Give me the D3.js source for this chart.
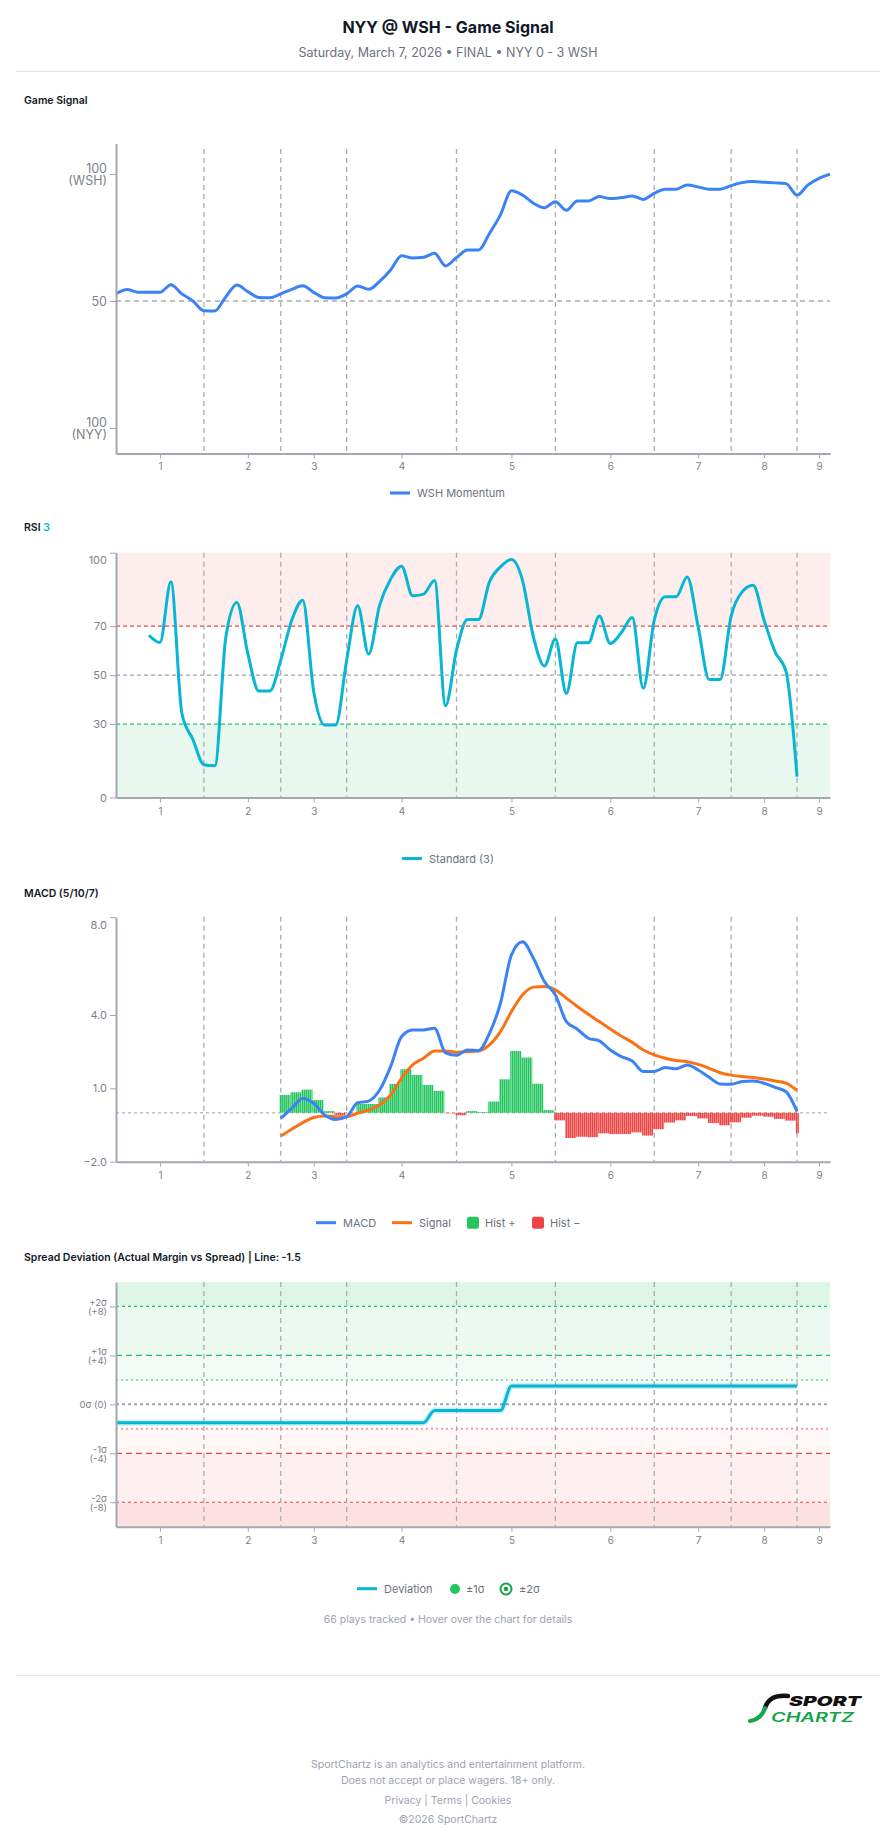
<!DOCTYPE html>
<html>
<head>
<meta charset="utf-8">
<script src="https://cdn.jsdelivr.net/npm/d3@7"></script>
<style>
  body { margin: 0; background: #fff; }
  svg text { font-family: Inter, "Noto Sans", sans-serif; }
  .section { font-size: 10.5px; font-weight: 600; fill: #111827; }
  .legend { font-size: 11px; fill: #6b7280; }
  .foot { font-size: 10.5px; fill: #9ca3af; }
</style>
</head>
<body>
<div id="chart"></div>
<script>
// innings / plays
var innings = ["1", "2", "3", "4", "5", "6", "7", "8", "9"];
var inningStart = [0, 8, 15, 21, 31, 40, 49, 56, 62];
var totalPlays = 66;

// WSH momentum, one value per play (50 = even)
var momentum = [52.8, 54.5, 53.4, 53.4, 53.4, 56.4, 52.8, 50.0, 46.2, 46.1,
  51.7, 56.3, 53.7, 51.4, 51.3, 52.8, 54.6, 56.0, 53.4, 51.3,
  51.2, 52.8, 55.9, 54.6, 57.7, 62.2, 67.8, 66.9, 67.2, 68.8,
  63.8, 67.1, 70.1, 70.1, 76.6, 83.9, 93.4, 91.7, 88.5, 86.7,
  89.1, 85.7, 89.4, 89.4, 91.1, 90.3, 90.7, 91.3, 90.0, 92.4,
  94.0, 94.0, 95.7, 94.9, 94.0, 94.0, 95.4, 96.6, 97.0, 96.7,
  96.5, 96.2, 91.7, 95.7, 98.3, 99.9];

// RSI (3), starts at play 3
var rsiStart = 3;
var rsi = [66.3, 63.3, 88.1, 34.3, 23.7, 13.4, 13.0, 65.6, 79.7, 58.8,
  43.5, 43.5, 56.1, 72.4, 80.6, 43.2, 29.6, 29.6, 56.1, 78.3,
  58.6, 78.6, 89.2, 94.5, 82.4, 83.1, 88.6, 37.5, 60.2, 72.7,
  72.7, 88.1, 94.2, 97.2, 88.8, 65.6, 53.7, 64.7, 42.5, 63.2,
  63.2, 74.1, 62.9, 67.3, 73.5, 44.6, 72.4, 82.0, 82.0, 90.1,
  69.7, 48.2, 48.2, 74.1, 84.0, 86.7, 72.4, 59.5, 51.4, 8.5];

// MACD (5/10/7), starts at play 15
var macdStart = 15;
var macd = [-0.23, 0.18, 0.59, 0.39, -0.09, -0.27, -0.16, 0.41, 0.48, 0.93,
  1.89, 3.12, 3.39, 3.39, 3.46, 2.45, 2.35, 2.57, 2.54, 3.25,
  4.48, 6.46, 7.00, 6.32, 5.37, 4.82, 3.73, 3.42, 3.05, 2.94,
  2.57, 2.30, 2.12, 1.69, 1.69, 1.85, 1.80, 1.96, 1.75, 1.45,
  1.18, 1.17, 1.28, 1.30, 1.21, 1.04, 0.86, 0.05];
var macdSignal = [-0.95, -0.67, -0.40, -0.19, -0.13, -0.16, -0.16, -0.02, 0.12, 0.32,
  0.73, 1.41, 1.96, 2.23, 2.53, 2.53, 2.48, 2.50, 2.53, 2.78,
  3.32, 4.14, 4.82, 5.14, 5.17, 5.03, 4.69, 4.35, 4.03, 3.73,
  3.43, 3.14, 2.88, 2.57, 2.37, 2.23, 2.14, 2.09, 1.98, 1.82,
  1.64, 1.54, 1.48, 1.44, 1.38, 1.30, 1.21, 0.91];
var macdHist = [0.73, 0.84, 0.95, 0.52, 0.07, -0.09, -0.02, 0.36, 0.36, 0.63,
  1.18, 1.78, 1.55, 1.14, 0.90, -0.02, -0.10, 0.07, 0.03, 0.46,
  1.37, 2.53, 2.26, 1.19, 0.11, -0.31, -1.03, -0.98, -1.00, -0.84,
  -0.87, -0.87, -0.80, -0.93, -0.67, -0.40, -0.31, -0.13, -0.23, -0.42,
  -0.51, -0.39, -0.20, -0.12, -0.16, -0.25, -0.32, -0.84];

// spread deviation per play
var deviation = [-1.5, -1.5, -1.5, -1.5, -1.5, -1.5, -1.5, -1.5, -1.5, -1.5,
  -1.5, -1.5, -1.5, -1.5, -1.5, -1.5, -1.5, -1.5, -1.5, -1.5,
  -1.5, -1.5, -1.5, -1.5, -1.5, -1.5, -1.5, -1.5, -1.5, -0.5,
  -0.5, -0.5, -0.5, -0.5, -0.5, -0.5, 1.5, 1.5, 1.5, 1.5,
  1.5, 1.5, 1.5, 1.5, 1.5, 1.5, 1.5, 1.5, 1.5, 1.5,
  1.5, 1.5, 1.5, 1.5, 1.5, 1.5, 1.5, 1.5, 1.5, 1.5,
  1.5, 1.5, 1.5];

// tick labels
var momentumTicks = [0, 50, 100];
var momentumTickLabels = [["100", "(NYY)"], ["50"], ["100", "(WSH)"]];
var rsiTicks = [0, 30, 50, 70, 100];
var macdTicks = [-2, 1, 4, 8];
var devTicks = [-8, -4, 0, 4, 8];
var devTickLabels = [["-2σ", "(-8)"], ["-1σ", "(-4)"], ["0σ (0)"], ["+1σ", "(+4)"], ["+2σ", "(+8)"]];

var axisColor = "#a3a8b0";
var gridColor = "#a8adb5";
var tickText = "#7c818a";

var svg = d3.select("#chart").append("svg")
    .attr("width", 896)
    .attr("height", 1845);

var x = d3.scaleLinear().domain([0, totalPlays - 1]).range([116, 830]);
var playW = x(1) - x(0);
var tickPos = inningStart.map(function(s, i) {
    var e = i + 1 < inningStart.length ? inningStart[i + 1] : totalPlays;
    return Math.round((s + e) / 2);
});

var defs = svg.append("defs");
[["histPos", "#22c55e"], ["histNeg", "#ef4444"]].forEach(function(p) {
    var pat = defs.append("pattern").attr("id", p[0])
        .attr("patternUnits", "userSpaceOnUse").attr("width", 2).attr("height", 4);
    pat.append("rect").attr("width", 2).attr("height", 4).attr("fill", p[1]).attr("opacity", 0.5);
    pat.append("rect").attr("width", 1.3).attr("height", 4).attr("fill", p[1]);
});

// header
svg.append("text").attr("x", 448).attr("y", 33).attr("text-anchor", "middle")
    .attr("font-size", 16).attr("font-weight", 700).attr("fill", "#111827")
    .text("NYY @ WSH - Game Signal");
svg.append("text").attr("x", 448).attr("y", 57).attr("text-anchor", "middle")
    .attr("font-size", 12.5).attr("fill", "#6b7280")
    .text("Saturday, March 7, 2026 • FINAL • NYY 0 - 3 WSH");
svg.append("line").attr("x1", 16).attr("x2", 880).attr("y1", 71.5).attr("y2", 71.5)
    .attr("stroke", "#e2e4e8").attr("stroke-width", 1.2);

function innLines(y0, y1) {
    svg.append("g").selectAll("line")
        .data(inningStart.slice(1))
        .enter().append("line")
        .attr("x1", function(d) { return x(d); })
        .attr("x2", function(d) { return x(d); })
        .attr("y1", y0).attr("y2", y1)
        .attr("stroke", gridColor).attr("stroke-width", 1.3)
        .attr("stroke-dasharray", "5,4");
}

function hLine(yv, color, width, dash) {
    svg.append("line").attr("x1", x.range()[0]).attr("x2", x.range()[1])
        .attr("y1", yv).attr("y2", yv)
        .attr("stroke", color).attr("stroke-width", width)
        .attr("stroke-dasharray", dash);
}

function xAxis(yb) {
    var g = svg.append("g").attr("transform", "translate(0," + yb + ")")
        .call(d3.axisBottom(x).tickValues(tickPos)
            .tickFormat(function(d, i) { return innings[i]; })
            .tickSize(5).tickSizeOuter(0));
    g.select(".domain").attr("stroke", axisColor).attr("stroke-width", 2);
    g.selectAll(".tick line").attr("stroke", axisColor);
    g.selectAll(".tick text").attr("fill", tickText).attr("font-size", 10).attr("dy", "0.9em");
}

function yAxis(y, ticks, fmt, size) {
    var g = svg.append("g").attr("transform", "translate(116,0)")
        .call(d3.axisLeft(y).tickValues(ticks).tickFormat(fmt).tickSize(6).tickSizeOuter(0));
    g.select(".domain").attr("stroke", axisColor).attr("stroke-width", 2);
    g.selectAll(".tick line").attr("stroke", axisColor);
    g.selectAll(".tick text").attr("fill", tickText).attr("font-size", size);
    return g;
}

function multiLine(g, labels, lh) {
    g.selectAll(".tick text").each(function(d, i) {
        var t = d3.select(this).text(null).attr("dy", null);
        var lines = labels[i];
        lines.forEach(function(s, j) {
            t.append("tspan").attr("x", -9)
                .attr("y", (j - (lines.length - 1) / 2) * lh)
                .attr("dy", "0.35em").text(s);
        });
    });
}

function legendLine(x0, y0, color, label) {
    svg.append("line").attr("x1", x0).attr("x2", x0 + 20).attr("y1", y0).attr("y2", y0)
        .attr("stroke", color).attr("stroke-width", 3);
    svg.append("text").attr("class", "legend").attr("x", x0 + 27).attr("y", y0 + 4).text(label);
}

var curve = d3.curveMonotoneX;

// ---------- Game Signal ----------
svg.append("text").attr("class", "section").attr("x", 24).attr("y", 104).text("Game Signal");

var y1 = d3.scaleLinear().domain([-10, 112]).range([453.4, 143.5]);
hLine(y1(50), gridColor, 1.3, "5,4");
innLines(149, 453);

svg.append("path")
    .datum(momentum.map(function(v, i) { return {p: i, v: v}; }))
    .attr("fill", "none").attr("stroke", "#3b82f6").attr("stroke-width", 3)
    .attr("stroke-linejoin", "round")
    .attr("d", d3.line().x(function(d) { return x(d.p); }).y(function(d) { return y1(d.v); }).curve(curve));

var g1 = yAxis(y1, momentumTicks, null, 12.5);
multiLine(g1, momentumTickLabels, 12);
xAxis(453.4);
legendLine(390, 493, "#3b82f6", "WSH Momentum");

// ---------- RSI ----------
var rsiTitle = svg.append("text").attr("class", "section").attr("x", 24).attr("y", 531);
rsiTitle.append("tspan").text("RSI ");
rsiTitle.append("tspan").attr("fill", "#06b6d4").text("3");

var y2 = d3.scaleLinear().domain([0, 100]).range([797.5, 552.7]);
svg.append("rect").attr("x", 116).attr("width", 714)
    .attr("y", y2(100)).attr("height", y2(70) - y2(100)).attr("fill", "#fdeded");
svg.append("rect").attr("x", 116).attr("width", 714)
    .attr("y", y2(30)).attr("height", y2(0) - y2(30)).attr("fill", "#e9f8ee");
hLine(y2(70), "#ef4444", 1.2, "4,3");
hLine(y2(50), "#9ca3af", 1.2, "4,3");
hLine(y2(30), "#22c55e", 1.2, "4,3");
innLines(552.7, 797.5);

svg.append("path")
    .datum(rsi.map(function(v, i) { return {p: rsiStart + i, v: v}; }))
    .attr("fill", "none").attr("stroke", "#06b6d4").attr("stroke-width", 3)
    .attr("stroke-linejoin", "round")
    .attr("d", d3.line().x(function(d) { return x(d.p); }).y(function(d) { return y2(d.v); }).curve(curve));

var g2 = yAxis(y2, rsiTicks, d3.format("d"), 11);
g2.selectAll(".tick text").filter(function(d) { return d === 100; }).attr("dy", "1em");
xAxis(797.5);
legendLine(402, 858.5, "#06b6d4", "Standard (3)");

// ---------- MACD ----------
svg.append("text").attr("class", "section").attr("x", 24).attr("y", 896.5).text("MACD (5/10/7)");

var y3 = d3.scaleLinear().domain([-2, 8]).range([1161.7, 917.2]);
hLine(y3(0), "#bfc3c9", 1.5, "3,3");
innLines(916.7, 1161.7);

svg.append("g").selectAll("rect")
    .data(macdHist.map(function(v, i) { return {p: macdStart + i, v: v}; }))
    .enter().append("rect")
    .attr("x", function(d) { return x(d.p) - 1.2; })
    .attr("width", function(d) { return d.p === macdStart + macdHist.length - 1 ? 3 : playW; })
    .attr("y", function(d) { return Math.min(y3(d.v), y3(0)); })
    .attr("height", function(d) { return Math.abs(y3(d.v) - y3(0)); })
    .attr("fill", function(d) { return d.v >= 0 ? "url(#histPos)" : "url(#histNeg)"; });

var lineM = d3.line().x(function(d) { return x(d.p); }).y(function(d) { return y3(d.v); }).curve(curve);
svg.append("path")
    .datum(macdSignal.map(function(v, i) { return {p: macdStart + i, v: v}; }))
    .attr("fill", "none").attr("stroke", "#f97316").attr("stroke-width", 3).attr("d", lineM);
svg.append("path")
    .datum(macd.map(function(v, i) { return {p: macdStart + i, v: v}; }))
    .attr("fill", "none").attr("stroke", "#3b82f6").attr("stroke-width", 3).attr("d", lineM);

var g3 = yAxis(y3, macdTicks, d3.format(".1f"), 11);
g3.selectAll(".tick text").filter(function(d) { return d === 8; }).attr("dy", "1em");
xAxis(1161.7);

legendLine(316, 1222.7, "#3b82f6", "MACD");
legendLine(392, 1222.7, "#f97316", "Signal");
svg.append("rect").attr("x", 467).attr("y", 1216.7).attr("width", 12).attr("height", 12)
    .attr("rx", 2.5).attr("fill", "#22c55e");
svg.append("text").attr("class", "legend").attr("x", 485).attr("y", 1226.7).text("Hist +");
svg.append("rect").attr("x", 532).attr("y", 1216.7).attr("width", 12).attr("height", 12)
    .attr("rx", 2.5).attr("fill", "#ef4444");
svg.append("text").attr("class", "legend").attr("x", 550).attr("y", 1226.7).text("Hist −");

// ---------- Spread Deviation ----------
svg.append("text").attr("class", "section").attr("x", 24).attr("y", 1261)
    .text("Spread Deviation (Actual Margin vs Spread) | Line: -1.5");

var y4 = d3.scaleLinear().domain([-10, 10]).range([1526.7, 1282]);
var bands = [[8, 10, "#ddf6e6"], [4, 8, "#ebf9f0"], [2, 4, "#f3fbf6"],
             [-4, -2, "#fff6f6"], [-8, -4, "#fdefef"], [-10, -8, "#fde1e2"]];
svg.append("g").selectAll("rect").data(bands).enter().append("rect")
    .attr("x", 116).attr("width", 714)
    .attr("y", function(d) { return y4(d[1]); })
    .attr("height", function(d) { return y4(d[0]) - y4(d[1]); })
    .attr("fill", function(d) { return d[2]; });
hLine(y4(8), "#22c55e", 1.2, "3,3");
hLine(y4(4), "#22c55e", 1.2, "6,4");
hLine(y4(2), "#86e0a4", 2, "2,3");
hLine(y4(0), "#9ca3af", 2, "3,3");
hLine(y4(-2), "#f3a0a0", 2, "2,3");
hLine(y4(-4), "#ef4444", 1.2, "6,4");
hLine(y4(-8), "#ef4444", 1.2, "3,3");
innLines(1282, 1526.7);

var devData = deviation.map(function(v, i) { return {p: i, v: v}; });
var lineD = d3.line().x(function(d) { return x(d.p); }).y(function(d) { return y4(d.v); }).curve(curve);
svg.append("path").datum(devData)
    .attr("fill", "none").attr("stroke", "#06b6d4").attr("stroke-opacity", 0.22)
    .attr("stroke-width", 6).attr("d", lineD);
svg.append("path").datum(devData)
    .attr("fill", "none").attr("stroke", "#06b6d4").attr("stroke-width", 3).attr("d", lineD);

var g4 = yAxis(y4, devTicks, null, 9.5);
multiLine(g4, devTickLabels, 9);
xAxis(1526.7);

legendLine(357, 1588.7, "#06b6d4", "Deviation");
svg.append("circle").attr("cx", 455).attr("cy", 1589).attr("r", 5).attr("fill", "#22c55e");
svg.append("text").attr("class", "legend").attr("x", 466).attr("y", 1592.7).text("±1σ");
svg.append("circle").attr("cx", 506).attr("cy", 1589).attr("r", 5.5)
    .attr("fill", "#fff").attr("stroke", "#16a34a").attr("stroke-width", 2);
svg.append("circle").attr("cx", 506).attr("cy", 1589).attr("r", 2.3).attr("fill", "#16a34a");
svg.append("text").attr("class", "legend").attr("x", 519).attr("y", 1592.7).text("±2σ");

svg.append("text").attr("class", "foot").attr("x", 448).attr("y", 1622.5)
    .attr("text-anchor", "middle").text("66 plays tracked • Hover over the chart for details");

// ---------- footer ----------
svg.append("line").attr("x1", 16).attr("x2", 880).attr("y1", 1675.3).attr("y2", 1675.3)
    .attr("stroke", "#e5e7eb").attr("stroke-width", 1.2);

var logo = svg.append("g");
logo.append("path").attr("d", "M788,1696 C774,1695 768,1699 765,1708")
    .attr("fill", "none").attr("stroke", "#111").attr("stroke-width", 4.5).attr("stroke-linecap", "round");
logo.append("path").attr("d", "M765,1708 C762,1717 757,1720 750,1721")
    .attr("fill", "none").attr("stroke", "#16a34a").attr("stroke-width", 4).attr("stroke-linecap", "round");
logo.append("text").attr("x", 789).attr("y", 1705.5).attr("font-size", 13.5).attr("font-weight", 900)
    .attr("font-style", "italic").attr("fill", "#111")
    .attr("textLength", 72).attr("lengthAdjust", "spacingAndGlyphs").text("SPORT");
logo.append("text").attr("x", 771).attr("y", 1722).attr("font-size", 12.5).attr("font-weight", 600)
    .attr("font-style", "italic").attr("fill", "#16a34a")
    .attr("textLength", 83).attr("lengthAdjust", "spacingAndGlyphs").text("CHARTZ");

svg.append("text").attr("class", "foot").attr("x", 448).attr("y", 1767.5).attr("text-anchor", "middle")
    .text("SportChartz is an analytics and entertainment platform.");
svg.append("text").attr("class", "foot").attr("x", 448).attr("y", 1783.5).attr("text-anchor", "middle")
    .text("Does not accept or place wagers. 18+ only.");
svg.append("text").attr("class", "foot").attr("x", 448).attr("y", 1803.5).attr("text-anchor", "middle")
    .text("Privacy  |  Terms  |  Cookies");
svg.append("text").attr("class", "foot").attr("x", 448).attr("y", 1823).attr("text-anchor", "middle")
    .text("©2026 SportChartz");
</script>
</body>
</html>
